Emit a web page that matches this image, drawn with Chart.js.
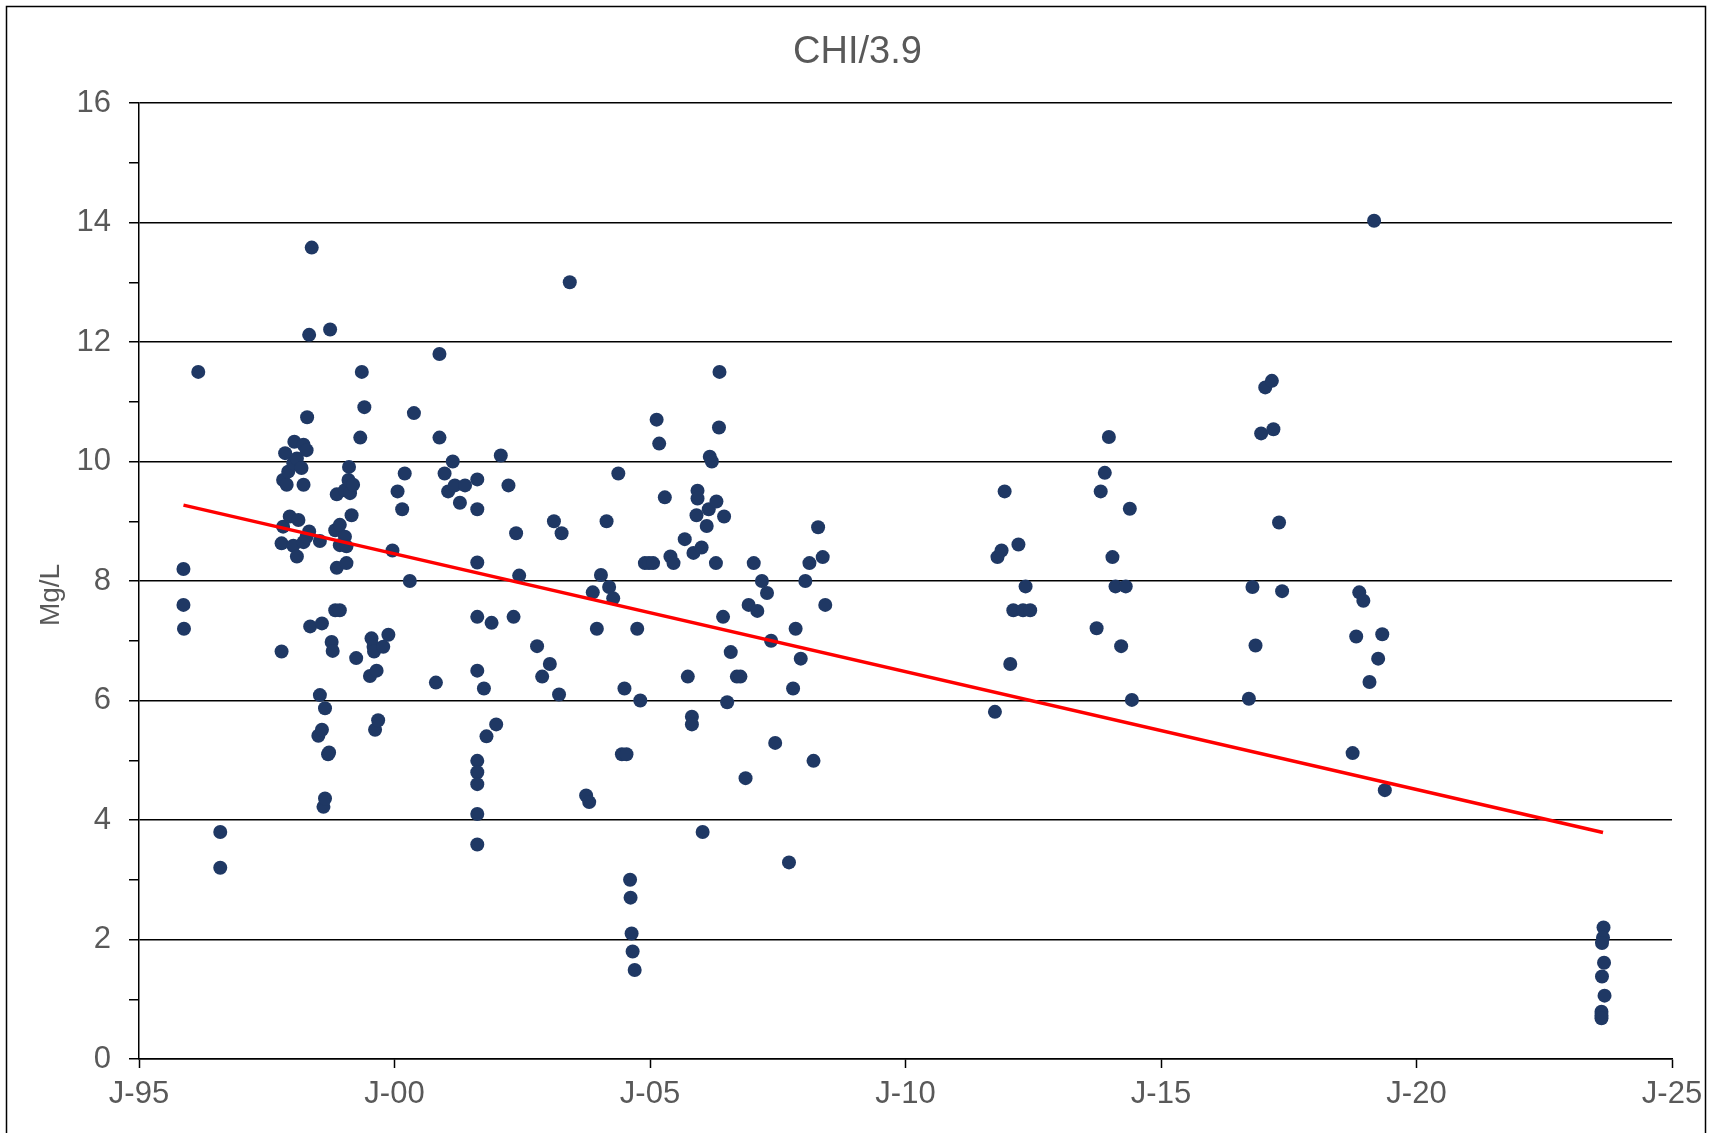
<!DOCTYPE html>
<html lang="en">
<head>
<meta charset="UTF-8">
<title>CHI/3.9</title>
<script src="https://cdn.jsdelivr.net/npm/chart.js"></script>
<style>
    html, body { margin: 0; padding: 0; background: #fff; }
    canvas { display: block; }
</style>
</head>
<body>
<canvas id="chi-chart" width="1715" height="1133"></canvas>
<script>
// sample dates as decimal years
const sampleYears = [
    1995.87, 1995.87, 1995.88, 1996.16, 1996.59, 1996.59,
    1997.79, 1997.79, 1997.82, 1997.82, 1997.86, 1997.89, 1997.92, 1997.95,
    1998.02, 1998.02, 1998.04, 1998.09, 1998.09, 1998.12, 1998.18, 1998.22, 1998.22, 1998.22,
    1998.28, 1998.28, 1998.29, 1998.33, 1998.33, 1998.35, 1998.38, 1998.51, 1998.54, 1998.54,
    1998.58, 1998.58, 1998.61, 1998.64, 1998.64, 1998.70, 1998.72, 1998.74, 1998.77, 1998.79,
    1998.84, 1998.84, 1998.87, 1998.87, 1998.93, 1998.93, 1998.93,
    1999.03, 1999.03, 1999.06, 1999.06, 1999.10, 1999.11, 1999.13, 1999.16, 1999.19, 1999.25,
    1999.33, 1999.36, 1999.41, 1999.52, 1999.55, 1999.59, 1999.60, 1999.62, 1999.65, 1999.68,
    1999.78, 1999.88, 1999.96,
    2000.06, 2000.15, 2000.20, 2000.30, 2000.38, 2000.81, 2000.88, 2000.88, 2000.98,
    2001.05, 2001.14, 2001.18, 2001.28, 2001.38,
    2001.62, 2001.62, 2001.62, 2001.62, 2001.62, 2001.62, 2001.62, 2001.62, 2001.62, 2001.62,
    2001.75, 2001.80, 2001.90, 2001.99, 2002.08, 2002.23, 2002.33, 2002.38, 2002.44, 2002.79, 2002.89,
    2003.04, 2003.12, 2003.22, 2003.27, 2003.43, 2003.75, 2003.81, 2003.88, 2003.96,
    2004.04, 2004.15, 2004.20, 2004.28, 2004.38, 2004.45, 2004.50, 2004.54,
    2004.61, 2004.62, 2004.64, 2004.66, 2004.70, 2004.75, 2004.81, 2004.90, 2004.98,
    2005.06, 2005.13, 2005.18, 2005.29, 2005.40, 2005.46, 2005.68, 2005.74, 2005.82, 2005.82,
    2005.85, 2005.91, 2005.93, 2005.93,
    2006.01, 2006.03, 2006.11, 2006.15, 2006.17, 2006.21, 2006.29, 2006.30, 2006.35, 2006.36,
    2006.43, 2006.45, 2006.51, 2006.58, 2006.70, 2006.77, 2006.87, 2006.93,
    2007.03, 2007.10, 2007.19, 2007.29, 2007.37, 2007.45, 2007.72, 2007.80, 2007.85, 2007.95,
    2008.04, 2008.12, 2008.20, 2008.29, 2008.38, 2008.43,
    2011.75, 2011.80, 2011.88, 2011.94, 2012.05, 2012.11, 2012.21, 2012.30, 2012.35, 2012.44,
    2013.74, 2013.82, 2013.90, 2013.98, 2014.05, 2014.11, 2014.22, 2014.31, 2014.39, 2014.43,
    2016.72, 2016.79, 2016.85, 2016.96, 2017.04, 2017.17, 2017.20, 2017.31, 2017.37,
    2018.75, 2018.82, 2018.88, 2018.96, 2019.08, 2019.17, 2019.25, 2019.33, 2019.38,
    2023.66, 2023.65, 2023.63, 2023.67, 2023.63, 2023.68, 2023.62, 2023.62, 2023.62
];
const chlorideMgL = [
    8.20, 7.60, 7.20, 11.50, 3.80, 3.20,
    6.82, 8.63, 9.69, 8.91, 10.14, 9.61, 9.83, 9.08,
    9.97, 8.59, 10.33, 10.05, 8.41, 9.02, 9.89, 10.28, 9.61, 8.65,
    10.19, 8.74, 10.74, 12.12, 8.83, 7.24, 13.58, 5.41, 6.09, 8.67,
    7.29, 5.51, 4.22, 5.87, 4.36, 5.10, 5.13, 12.21, 6.98, 6.83,
    7.51, 8.85, 9.45, 8.22, 7.51, 8.94, 8.60,
    9.52, 8.74, 8.58, 8.30, 9.69, 9.91, 9.47, 9.10, 9.61, 6.71,
    10.40, 11.50, 10.91, 6.41, 7.04, 6.90, 6.82, 5.51, 6.50, 5.67,
    6.90, 7.10, 8.51,
    9.50, 9.20, 9.80, 8.00, 10.81, 6.30, 11.80, 10.40, 9.80,
    9.50, 10.00, 9.60, 9.31, 9.60,
    9.70, 9.20, 8.31, 7.40, 6.50, 4.99, 4.80, 4.60, 4.10, 3.59,
    6.20, 5.40, 7.30, 5.60, 10.10, 9.60, 7.40, 8.80, 8.09, 6.91, 6.40,
    6.61, 9.00, 6.10, 8.80, 13.00, 4.41, 4.30, 7.81, 7.20,
    8.10, 9.00, 7.90, 7.71, 9.80, 5.10, 6.20, 5.10,
    3.00, 2.70, 2.10, 1.80, 1.49, 7.20, 6.00, 8.30, 8.30,
    8.30, 10.70, 10.30, 9.40, 8.41, 8.30, 8.70, 6.40, 5.73, 5.60,
    8.47, 9.10, 9.51, 9.38,
    8.56, 3.80, 8.92, 9.20, 10.08, 10.00, 8.30, 9.33, 10.57, 11.50,
    7.40, 9.08, 5.97, 6.81, 6.40, 6.40, 4.70, 7.60,
    8.30, 7.50, 8.00, 7.80, 7.00, 5.29, 3.29, 6.20, 7.20, 6.70,
    8.00, 8.30, 4.99, 8.90, 8.40, 7.60,
    5.81, 8.40, 8.51, 9.50, 6.61, 7.51, 8.61, 7.51, 7.91, 7.51,
    7.21, 9.50, 9.81, 10.41, 8.40, 7.91, 6.91, 7.91, 9.21, 6.01,
    6.03, 7.90, 6.92, 10.47, 11.24, 11.35, 10.54, 8.98, 7.83,
    5.12, 7.07, 7.81, 7.67, 6.31, 14.03, 6.70, 7.11, 4.50,
    2.20, 2.03, 1.94, 1.61, 1.38, 1.06, 0.79, 0.73, 0.68
];

// linear trendline end points
const trendYears = [1995.87, 2023.65];
const trendValues = [9.27, 3.79];

const xTickYears = [1995, 2000, 2005, 2010, 2015, 2020, 2025];
const xTickLabels = ['J-95', 'J-00', 'J-05', 'J-10', 'J-15', 'J-20', 'J-25'];
const yMin = 0;
const yMax = 16;
const yLabelStep = 2;

const chartTitle = 'CHI/3.9';
const yAxisTitle = 'Mg/L';

const FONT = '"Liberation Sans", Arial, sans-serif';
const TEXT_GREY = '#595959';

// outer border, title and rotated axis title
const frame = {
    id: 'frame',
    afterDraw(chart) {
        const ctx = chart.ctx;
        ctx.save();
        ctx.strokeStyle = '#000';
        ctx.lineWidth = 1.5;
        ctx.strokeRect(6.5, 6.5, 1699, 1200);

        ctx.fillStyle = TEXT_GREY;
        ctx.textAlign = 'center';
        ctx.textBaseline = 'alphabetic';
        ctx.font = '38px ' + FONT;
        ctx.fillText(chartTitle, chart.width / 2, 63);

        ctx.translate(51, 595);
        ctx.rotate(-Math.PI / 2);
        ctx.textBaseline = 'middle';
        ctx.font = '28px ' + FONT;
        ctx.fillText(yAxisTitle, 0, 0);
        ctx.restore();
    }
};

const points = sampleYears.map((x, i) => ({ x: x, y: chlorideMgL[i] }));
const trend = trendYears.map((x, i) => ({ x: x, y: trendValues[i] }));

new Chart(document.getElementById('chi-chart'), {
    type: 'scatter',
    data: {
        datasets: [
            {
                label: 'Trend',
                data: trend,
                showLine: true,
                borderColor: '#FF0000',
                borderWidth: 3.5,
                pointRadius: 0,
                fill: false,
                order: 0
            },
            {
                label: chartTitle,
                data: points,
                backgroundColor: '#1F3864',
                borderColor: '#1F3864',
                borderWidth: 0,
                pointRadius: 7,
                order: 1
            }
        ]
    },
    options: {
        responsive: false,
        devicePixelRatio: 1,
        animation: false,
        layout: { padding: { top: 103, right: 43, bottom: 0, left: 0 } },
        plugins: {
            legend: { display: false },
            tooltip: { enabled: false },
            title: { display: false }
        },
        scales: {
            x: {
                type: 'linear',
                min: xTickYears[0],
                max: xTickYears[xTickYears.length - 1],
                afterBuildTicks: scale => {
                    scale.ticks = xTickYears.map(v => ({ value: v }));
                },
                afterFit: scale => { scale.height = 74; },
                ticks: {
                    autoSkip: false,
                    maxRotation: 0,
                    padding: 8,
                    color: TEXT_GREY,
                    font: { family: FONT, size: 31 },
                    callback: v => xTickLabels[xTickYears.indexOf(v)]
                },
                grid: {
                    drawOnChartArea: false,
                    drawTicks: true,
                    tickLength: 9,
                    tickColor: '#000',
                    tickWidth: 1.5
                },
                border: { display: true, color: '#000', width: 1.5 }
            },
            y: {
                min: yMin,
                max: yMax,
                afterFit: scale => { scale.width = 139; },
                ticks: {
                    stepSize: 1,
                    autoSkip: false,
                    padding: 18,
                    color: TEXT_GREY,
                    font: { family: FONT, size: 31 },
                    callback: v => (v % yLabelStep === 0 ? v : '')
                },
                grid: {
                    color: c => (c.tick && c.tick.value % yLabelStep === 0 ? '#000' : 'rgba(0,0,0,0)'),
                    lineWidth: 1.5,
                    tickLength: 10,
                    tickColor: '#000',
                    tickWidth: 1.5
                },
                border: { display: true, color: '#000', width: 1.5 }
            }
        }
    },
    plugins: [frame]
});
</script>
</body>
</html>
